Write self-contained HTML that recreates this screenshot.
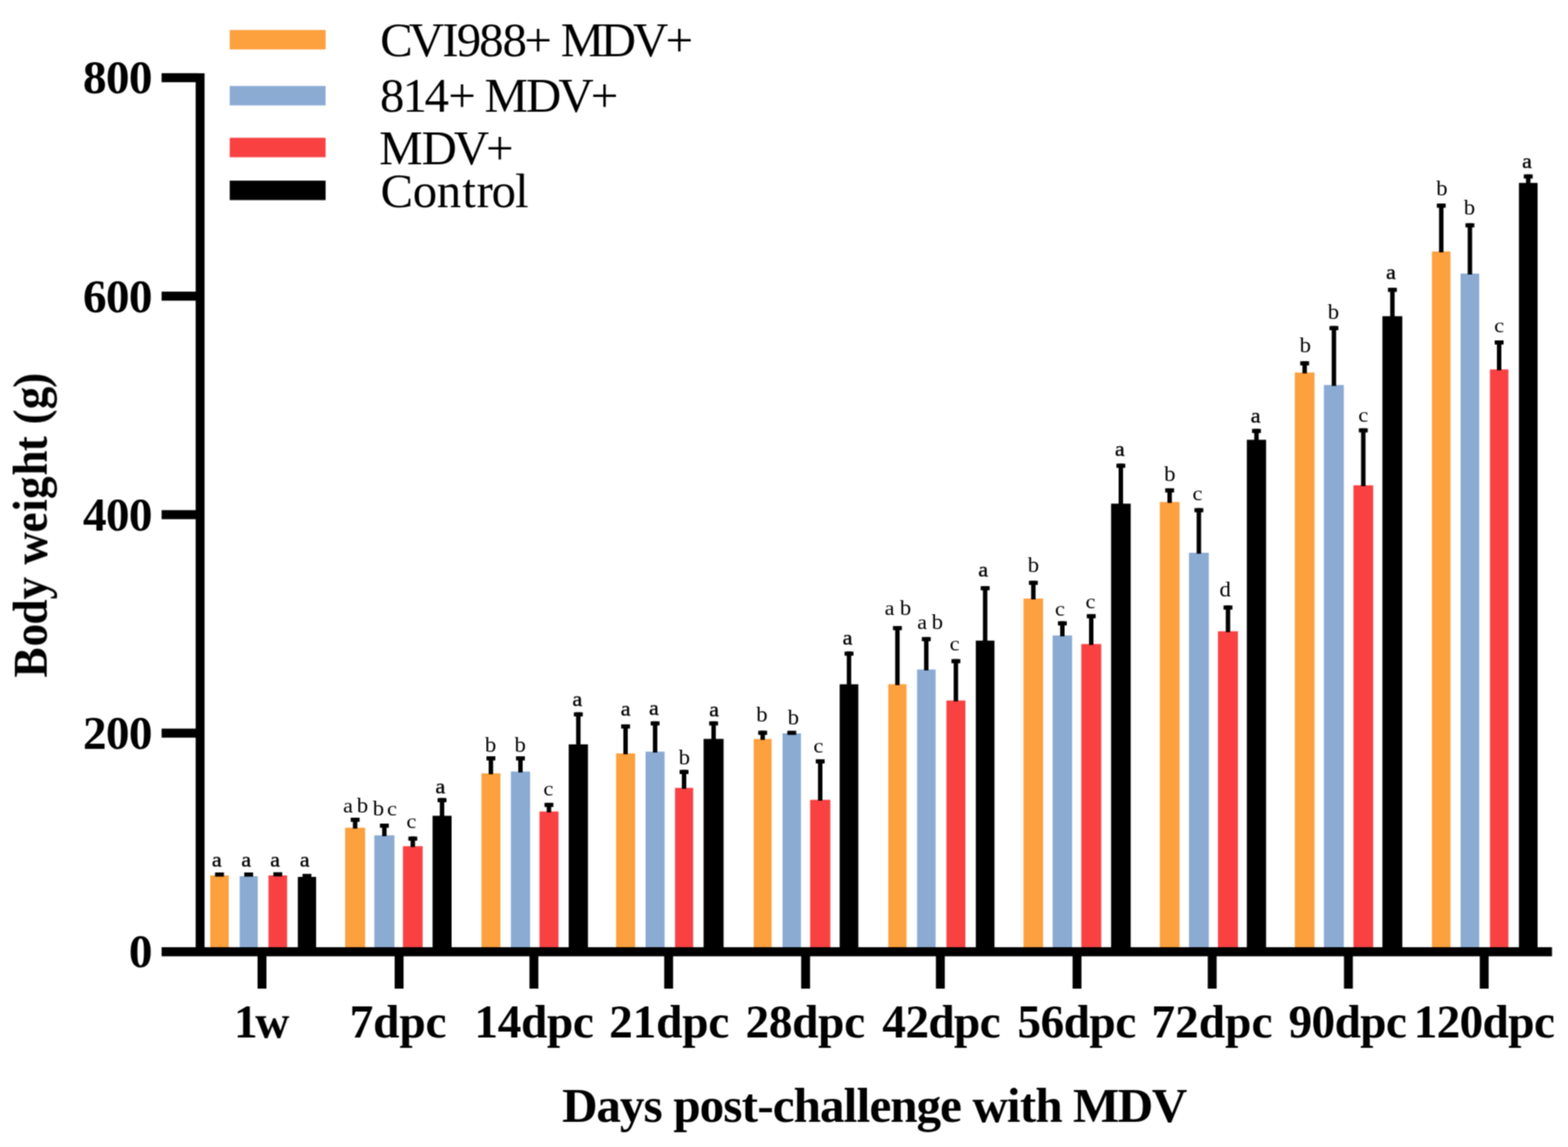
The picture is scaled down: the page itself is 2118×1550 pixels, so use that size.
<!DOCTYPE html>
<html lang="en"><head><meta charset="utf-8"><title>Body weight (g) - Days post-challenge with MDV</title>
<style>
html,body{margin:0;padding:0;background:#fff;}
body{width:2118px;height:1550px;overflow:hidden;}
svg{display:block;}
text{font-family:"Liberation Serif","Times New Roman",serif;fill:#000;font-kerning:none;white-space:pre;}
.b{font-weight:bold;font-size:64px;}
.r{font-weight:normal;font-size:66px;}
.t{font-weight:bold;font-size:66.5px;}
.s{font-weight:normal;font-size:31px;}
.h{stroke:#000;stroke-width:0.45px;}
</style></head><body>
<svg width="2118" height="1550" viewBox="0 0 2118 1550">
<defs><filter id="soft" x="0" y="0" width="2118" height="1550" filterUnits="userSpaceOnUse" color-interpolation-filters="sRGB"><feConvolveMatrix order="3" kernelMatrix="1 2 1 2 4 2 1 2 1" divisor="16" edgeMode="duplicate" preserveAlpha="false"/></filter>
</defs>
<rect x="0" y="0" width="2118" height="1550" fill="#ffffff"/>
<g id="chart" filter="url(#soft)">
<g id="bars">
<rect x="284.0" y="1183.0" width="25.0" height="97.2" fill="#FDA03E"/>
<rect x="323.7" y="1184.0" width="24.5" height="96.2" fill="#8BABD3"/>
<rect x="362.6" y="1183.0" width="25.2" height="97.2" fill="#F94142"/>
<rect x="402.3" y="1185.0" width="24.7" height="95.2" fill="#000000"/>
<rect x="466.2" y="1118.5" width="27.0" height="161.7" fill="#FDA03E"/>
<rect x="505.6" y="1128.8" width="27.2" height="151.4" fill="#8BABD3"/>
<rect x="544.3" y="1143.5" width="26.6" height="136.7" fill="#F94142"/>
<rect x="584.3" y="1102.4" width="25.7" height="177.8" fill="#000000"/>
<rect x="650.3" y="1045.1" width="25.7" height="235.1" fill="#FDA03E"/>
<rect x="690.1" y="1042.6" width="25.9" height="237.6" fill="#8BABD3"/>
<rect x="728.7" y="1096.6" width="25.7" height="183.6" fill="#F94142"/>
<rect x="768.2" y="1005.9" width="26.0" height="274.3" fill="#000000"/>
<rect x="832.2" y="1018.1" width="25.7" height="262.1" fill="#FDA03E"/>
<rect x="872.0" y="1015.7" width="25.7" height="264.5" fill="#8BABD3"/>
<rect x="911.8" y="1064.7" width="24.5" height="215.5" fill="#F94142"/>
<rect x="950.4" y="998.5" width="27.0" height="281.7" fill="#000000"/>
<rect x="1018.1" y="998.6" width="24.2" height="281.6" fill="#FDA03E"/>
<rect x="1057.0" y="991.0" width="24.9" height="289.2" fill="#8BABD3"/>
<rect x="1094.3" y="1080.8" width="27.3" height="199.4" fill="#F94142"/>
<rect x="1134.2" y="924.7" width="25.2" height="355.5" fill="#000000"/>
<rect x="1199.9" y="924.6" width="24.6" height="355.6" fill="#FDA03E"/>
<rect x="1238.7" y="904.7" width="25.1" height="375.5" fill="#8BABD3"/>
<rect x="1278.4" y="946.6" width="25.6" height="333.6" fill="#F94142"/>
<rect x="1318.1" y="865.7" width="25.2" height="414.5" fill="#000000"/>
<rect x="1382.5" y="808.8" width="26.5" height="471.4" fill="#FDA03E"/>
<rect x="1421.8" y="858.7" width="26.4" height="421.5" fill="#8BABD3"/>
<rect x="1460.6" y="870.3" width="26.9" height="409.9" fill="#F94142"/>
<rect x="1500.8" y="680.6" width="26.5" height="599.6" fill="#000000"/>
<rect x="1566.6" y="678.4" width="26.7" height="601.8" fill="#FDA03E"/>
<rect x="1606.0" y="747.0" width="26.8" height="533.2" fill="#8BABD3"/>
<rect x="1645.2" y="853.1" width="27.0" height="427.1" fill="#F94142"/>
<rect x="1684.2" y="594.3" width="26.0" height="685.9" fill="#000000"/>
<rect x="1749.0" y="503.4" width="26.6" height="776.8" fill="#FDA03E"/>
<rect x="1788.3" y="520.3" width="26.9" height="759.9" fill="#8BABD3"/>
<rect x="1828.2" y="655.8" width="26.6" height="624.4" fill="#F94142"/>
<rect x="1867.3" y="427.3" width="26.9" height="852.9" fill="#000000"/>
<rect x="1934.2" y="339.8" width="25.1" height="940.4" fill="#FDA03E"/>
<rect x="1972.9" y="369.7" width="25.2" height="910.5" fill="#8BABD3"/>
<rect x="2012.6" y="499.2" width="24.9" height="781.0" fill="#F94142"/>
<rect x="2051.7" y="247.2" width="25.2" height="1033.0" fill="#000000"/>
</g>
<g id="errors" fill="#000">
<rect x="290.5" y="1179.0" width="12" height="5.6"/>
<rect x="329.9" y="1179.0" width="12" height="5.6"/>
<rect x="369.2" y="1178.7" width="12" height="5.6"/>
<rect x="408.6" y="1180.9" width="12" height="5.6"/>
<rect x="473.7" y="1105.0" width="12" height="5.6"/>
<rect x="476.7" y="1105.0" width="6" height="14.7"/>
<rect x="513.2" y="1113.0" width="12" height="5.6"/>
<rect x="516.2" y="1113.0" width="6" height="17.0"/>
<rect x="551.6" y="1130.5" width="12" height="5.6"/>
<rect x="554.6" y="1130.5" width="6" height="14.2"/>
<rect x="591.1" y="1078.5" width="12" height="5.6"/>
<rect x="594.1" y="1078.5" width="6" height="25.1"/>
<rect x="657.1" y="1022.0" width="12" height="5.6"/>
<rect x="660.1" y="1022.0" width="6" height="24.3"/>
<rect x="697.0" y="1022.0" width="12" height="5.6"/>
<rect x="700.0" y="1022.0" width="6" height="21.8"/>
<rect x="735.5" y="1084.9" width="12" height="5.6"/>
<rect x="738.5" y="1084.9" width="6" height="12.9"/>
<rect x="775.2" y="962.6" width="12" height="5.6"/>
<rect x="778.2" y="962.6" width="6" height="44.5"/>
<rect x="839.0" y="978.9" width="12" height="5.6"/>
<rect x="842.0" y="978.9" width="6" height="40.4"/>
<rect x="878.9" y="974.8" width="12" height="5.6"/>
<rect x="881.9" y="974.8" width="6" height="42.1"/>
<rect x="918.0" y="1040.4" width="12" height="5.6"/>
<rect x="921.0" y="1040.4" width="6" height="25.5"/>
<rect x="957.9" y="974.8" width="12" height="5.6"/>
<rect x="960.9" y="974.8" width="6" height="24.9"/>
<rect x="1024.2" y="987.5" width="12" height="5.6"/>
<rect x="1027.2" y="987.5" width="6" height="12.3"/>
<rect x="1063.5" y="987.5" width="12" height="5.6"/>
<rect x="1101.9" y="1026.1" width="12" height="5.6"/>
<rect x="1104.9" y="1026.1" width="6" height="55.9"/>
<rect x="1140.8" y="880.5" width="12" height="5.6"/>
<rect x="1143.8" y="880.5" width="6" height="45.4"/>
<rect x="1206.2" y="846.0" width="12" height="5.6"/>
<rect x="1209.2" y="846.0" width="6" height="79.8"/>
<rect x="1245.2" y="860.9" width="12" height="5.6"/>
<rect x="1248.2" y="860.9" width="6" height="45.0"/>
<rect x="1285.2" y="890.7" width="12" height="5.6"/>
<rect x="1288.2" y="890.7" width="6" height="57.1"/>
<rect x="1324.7" y="792.1" width="12" height="5.6"/>
<rect x="1327.7" y="792.1" width="6" height="74.8"/>
<rect x="1389.8" y="784.8" width="12" height="5.6"/>
<rect x="1392.8" y="784.8" width="6" height="25.2"/>
<rect x="1429.0" y="839.6" width="12" height="5.6"/>
<rect x="1432.0" y="839.6" width="6" height="20.3"/>
<rect x="1468.0" y="829.9" width="12" height="5.6"/>
<rect x="1471.0" y="829.9" width="6" height="41.6"/>
<rect x="1508.0" y="626.6" width="12" height="5.6"/>
<rect x="1511.0" y="626.6" width="6" height="55.2"/>
<rect x="1573.9" y="659.9" width="12" height="5.6"/>
<rect x="1576.9" y="659.9" width="6" height="19.7"/>
<rect x="1613.4" y="686.7" width="12" height="5.6"/>
<rect x="1616.4" y="686.7" width="6" height="61.5"/>
<rect x="1652.7" y="818.2" width="12" height="5.6"/>
<rect x="1655.7" y="818.2" width="6" height="36.1"/>
<rect x="1691.2" y="579.6" width="12" height="5.6"/>
<rect x="1694.2" y="579.6" width="6" height="15.9"/>
<rect x="1756.3" y="488.2" width="12" height="5.6"/>
<rect x="1759.3" y="488.2" width="6" height="16.4"/>
<rect x="1795.8" y="440.6" width="12" height="5.6"/>
<rect x="1798.8" y="440.6" width="6" height="80.9"/>
<rect x="1835.5" y="578.8" width="12" height="5.6"/>
<rect x="1838.5" y="578.8" width="6" height="78.2"/>
<rect x="1874.8" y="388.9" width="12" height="5.6"/>
<rect x="1877.8" y="388.9" width="6" height="39.6"/>
<rect x="1940.8" y="275.1" width="12" height="5.6"/>
<rect x="1943.8" y="275.1" width="6" height="65.9"/>
<rect x="1979.5" y="301.7" width="12" height="5.6"/>
<rect x="1982.5" y="301.7" width="6" height="69.2"/>
<rect x="2019.0" y="460.0" width="12" height="5.6"/>
<rect x="2022.0" y="460.0" width="6" height="40.4"/>
<rect x="2058.3" y="235.7" width="12" height="5.6"/>
<rect x="2061.3" y="235.7" width="6" height="12.7"/>
</g>
<g id="swatches">
<rect x="310.3" y="40.5" width="129.5" height="26.3" fill="#FDA03E"/>
<rect x="310.3" y="116.2" width="129.5" height="26.3" fill="#8BABD3"/>
<rect x="310.3" y="186.2" width="129.5" height="26.3" fill="#F94142"/>
<rect x="310.3" y="244.1" width="129.5" height="26.3" fill="#000000"/>
</g>
<g id="axes" fill="#000">
<rect x="264.3" y="99" width="12.0" height="1192.9"/>
<rect x="218.3" y="1280.0" width="1878.1" height="12.3"/>
<rect x="218.3" y="98.9" width="50" height="12.2"/>
<rect x="218.3" y="394.1" width="50" height="12.2"/>
<rect x="218.3" y="689.4" width="50" height="12.2"/>
<rect x="218.3" y="984.6" width="50" height="12.2"/>
<rect x="347.9" y="1280.0" width="12" height="56.0"/>
<rect x="533.1" y="1280.0" width="12" height="56.0"/>
<rect x="715.2" y="1280.0" width="12" height="56.0"/>
<rect x="897.2" y="1280.0" width="12" height="56.0"/>
<rect x="1082.2" y="1280.0" width="12" height="56.0"/>
<rect x="1264.2" y="1280.0" width="12" height="56.0"/>
<rect x="1448.8" y="1280.0" width="12" height="56.0"/>
<rect x="1631.4" y="1280.0" width="12" height="56.0"/>
<rect x="1815.4" y="1280.0" width="12" height="56.0"/>
<rect x="1998.8" y="1280.0" width="12" height="56.0"/>
</g>
</g>
<g id="text" filter="url(#soft)">
<g id="ylabels">
<text class="b" x="112.1 143.1 174.1" y="126.3">800</text>
<text class="b" x="112.1 143.1 174.1" y="421.6">600</text>
<text class="b" x="112.1 143.1 174.1" y="716.8">400</text>
<text class="b" x="112.1 143.1 174.1" y="1012.0">200</text>
<text class="b" x="174.1" y="1307.3">0</text>
</g>
<g id="xlabels">
<text class="b" x="316.0 344.8" y="1402.2">1w</text>
<text class="b" x="472.3 504.1 539.4 574.7" y="1402.2">7dpc</text>
<text class="b" x="640.8 672.2 703.7 738.7 773.8" y="1402.2">14dpc</text>
<text class="b" x="822.7 854.4 886.2 921.5 956.8" y="1402.2">21dpc</text>
<text class="b" x="1007.0 1038.5 1070.0 1105.1 1140.2" y="1402.2">28dpc</text>
<text class="b" x="1191.8 1222.9 1253.9 1288.6 1323.2" y="1402.2">42dpc</text>
<text class="b" x="1374.2 1405.5 1436.8 1471.6 1506.5" y="1402.2">56dpc</text>
<text class="b" x="1555.2 1587.2 1619.2 1654.8 1690.4" y="1402.2">72dpc</text>
<text class="b" x="1740.5 1771.6 1802.7 1837.3 1872.0" y="1402.2">90dpc</text>
<text class="b" x="1909.4 1940.5 1971.5 2002.6 2037.3 2072.0" y="1402.2">120dpc</text>
</g>
<text class="t" x="759.2 805.5 837.3 869.2 895.1 909.6 945.0 976.9 1001.7 1022.9 1043.8 1071.9 1107.4 1139.5 1157.0 1174.4 1202.5 1238.0 1269.8 1299.4 1313.5 1360.1 1377.6 1398.4 1435.4 1449.2 1509.7 1555.7" y="1516">Days post-challenge with MDV</text>
<text class="b" transform="rotate(-90) scale(0.955,1.02)" x="-958.7 -914.8 -883.9 -848.4 -816.4 -799.0 -753.6 -724.2 -706.0 -672.8 -638.5 -617.2 -600.5 -579.2 -548.9" y="61.4">Body weight (g)</text>
<g id="legend">
<text class="r" x="513.6 552.2 597.4 617.0 647.2 678.7 708.2 745.4 757.4 811.5 855.1 898.9" y="76.4">CVI988+ MDV+</text>
<text class="r" x="513.2 543.8 573.4 605.4 642.6 654.4 710.5 754.2 798.0" y="150.7">814+ MDV+</text>
<text class="r" x="512.2 569.4 612.9 656.4" y="221.5">MDV+</text>
<text class="r" x="514.0 557.5 589.9 624.4 643.7 664.1 695.7" y="280.1">Control</text>
</g>
<g id="letters">
<text class="s" y="1170.7"><tspan x="286.3" font-size="26.5" textLength="13.17" lengthAdjust="spacingAndGlyphs" class="h">a</tspan></text>
<text class="s" y="1170.7"><tspan x="325.9" font-size="26.5" textLength="13.17" lengthAdjust="spacingAndGlyphs" class="h">a</tspan></text>
<text class="s" y="1170.7"><tspan x="365.0" font-size="26.5" textLength="13.17" lengthAdjust="spacingAndGlyphs" class="h">a</tspan></text>
<text class="s" y="1170.7"><tspan x="404.9" font-size="26.5" textLength="13.17" lengthAdjust="spacingAndGlyphs" class="h">a</tspan></text>
<text class="s" y="1097.5"><tspan x="463.4" font-size="26.5" textLength="13.17" lengthAdjust="spacingAndGlyphs">a</tspan><tspan x="482.1" font-size="29.5" textLength="15.34" lengthAdjust="spacingAndGlyphs">b</tspan></text>
<text class="s" y="1101.5"><tspan x="503.6" font-size="29.5" textLength="15.34" lengthAdjust="spacingAndGlyphs">b</tspan><tspan x="522.8" font-size="26.5" textLength="13.41" lengthAdjust="spacingAndGlyphs">c</tspan></text>
<text class="s" y="1119.1"><tspan x="549.0" font-size="26.5" textLength="13.41" lengthAdjust="spacingAndGlyphs">c</tspan></text>
<text class="s" y="1071.5"><tspan x="588.2" font-size="26.5" textLength="13.17" lengthAdjust="spacingAndGlyphs" class="h">a</tspan></text>
<text class="s" y="1015.8"><tspan x="655.1" font-size="29.5" textLength="15.34" lengthAdjust="spacingAndGlyphs">b</tspan></text>
<text class="s" y="1015.8"><tspan x="694.9" font-size="29.5" textLength="15.34" lengthAdjust="spacingAndGlyphs">b</tspan></text>
<text class="s" y="1074.6"><tspan x="734.1" font-size="26.5" textLength="13.41" lengthAdjust="spacingAndGlyphs">c</tspan></text>
<text class="s" y="953.9"><tspan x="773.2" font-size="26.5" textLength="13.17" lengthAdjust="spacingAndGlyphs" class="h">a</tspan></text>
<text class="s" y="967.4"><tspan x="838.4" font-size="26.5" textLength="13.17" lengthAdjust="spacingAndGlyphs" class="h">a</tspan></text>
<text class="s" y="965.5"><tspan x="876.7" font-size="26.5" textLength="13.17" lengthAdjust="spacingAndGlyphs" class="h">a</tspan></text>
<text class="s" y="1033.0"><tspan x="916.7" font-size="29.5" textLength="15.34" lengthAdjust="spacingAndGlyphs">b</tspan></text>
<text class="s" y="968.0"><tspan x="957.9" font-size="26.5" textLength="13.17" lengthAdjust="spacingAndGlyphs" class="h">a</tspan></text>
<text class="s" y="975.1"><tspan x="1021.5" font-size="29.5" textLength="15.34" lengthAdjust="spacingAndGlyphs">b</tspan></text>
<text class="s" y="978.8"><tspan x="1063.9" font-size="29.5" textLength="15.34" lengthAdjust="spacingAndGlyphs">b</tspan></text>
<text class="s" y="1017.4"><tspan x="1098.7" font-size="26.5" textLength="13.41" lengthAdjust="spacingAndGlyphs">c</tspan></text>
<text class="s" y="871.4"><tspan x="1138.2" font-size="26.5" textLength="13.17" lengthAdjust="spacingAndGlyphs" class="h">a</tspan></text>
<text class="s" y="831.1"><tspan x="1195.1" font-size="26.5" textLength="13.17" lengthAdjust="spacingAndGlyphs">a</tspan><tspan x="1215.5" font-size="29.5" textLength="15.34" lengthAdjust="spacingAndGlyphs">b</tspan></text>
<text class="s" y="850.0"><tspan x="1239.0" font-size="26.5" textLength="13.17" lengthAdjust="spacingAndGlyphs">a</tspan><tspan x="1258.6" font-size="29.5" textLength="15.34" lengthAdjust="spacingAndGlyphs">b</tspan></text>
<text class="s" y="878.7"><tspan x="1282.8" font-size="26.5" textLength="13.41" lengthAdjust="spacingAndGlyphs">c</tspan></text>
<text class="s" y="779.0"><tspan x="1321.5" font-size="26.5" textLength="13.17" lengthAdjust="spacingAndGlyphs" class="h">a</tspan></text>
<text class="s" y="773.4"><tspan x="1388.2" font-size="29.5" textLength="15.34" lengthAdjust="spacingAndGlyphs">b</tspan></text>
<text class="s" y="831.5"><tspan x="1425.0" font-size="26.5" textLength="13.41" lengthAdjust="spacingAndGlyphs">c</tspan></text>
<text class="s" y="822.4"><tspan x="1466.3" font-size="26.5" textLength="13.41" lengthAdjust="spacingAndGlyphs">c</tspan></text>
<text class="s" y="615.6"><tspan x="1506.0" font-size="26.5" textLength="13.17" lengthAdjust="spacingAndGlyphs" class="h">a</tspan></text>
<text class="s" y="650.3"><tspan x="1572.5" font-size="29.5" textLength="15.34" lengthAdjust="spacingAndGlyphs">b</tspan></text>
<text class="s" y="675.8"><tspan x="1610.8" font-size="26.5" textLength="13.41" lengthAdjust="spacingAndGlyphs">c</tspan></text>
<text class="s" y="805.7"><tspan x="1647.2" font-size="29.5" textLength="15.34" lengthAdjust="spacingAndGlyphs">d</tspan></text>
<text class="s" y="571.0"><tspan x="1689.5" font-size="26.5" textLength="13.17" lengthAdjust="spacingAndGlyphs" class="h">a</tspan></text>
<text class="s" y="475.5"><tspan x="1755.6" font-size="29.5" textLength="15.34" lengthAdjust="spacingAndGlyphs">b</tspan></text>
<text class="s" y="430.5"><tspan x="1793.5" font-size="29.5" textLength="15.34" lengthAdjust="spacingAndGlyphs">b</tspan></text>
<text class="s" y="569.8"><tspan x="1834.8" font-size="26.5" textLength="13.41" lengthAdjust="spacingAndGlyphs">c</tspan></text>
<text class="s" y="377.2"><tspan x="1872.2" font-size="26.5" textLength="13.17" lengthAdjust="spacingAndGlyphs" class="h">a</tspan></text>
<text class="s" y="264.4"><tspan x="1939.9" font-size="29.5" textLength="15.34" lengthAdjust="spacingAndGlyphs">b</tspan></text>
<text class="s" y="290.3"><tspan x="1977.2" font-size="29.5" textLength="15.34" lengthAdjust="spacingAndGlyphs">b</tspan></text>
<text class="s" y="449.0"><tspan x="2018.2" font-size="26.5" textLength="13.41" lengthAdjust="spacingAndGlyphs">c</tspan></text>
<text class="s" y="226.9"><tspan x="2056.1" font-size="26.5" textLength="13.17" lengthAdjust="spacingAndGlyphs" class="h">a</tspan></text>
</g>
</g>
</svg>
</body></html>
